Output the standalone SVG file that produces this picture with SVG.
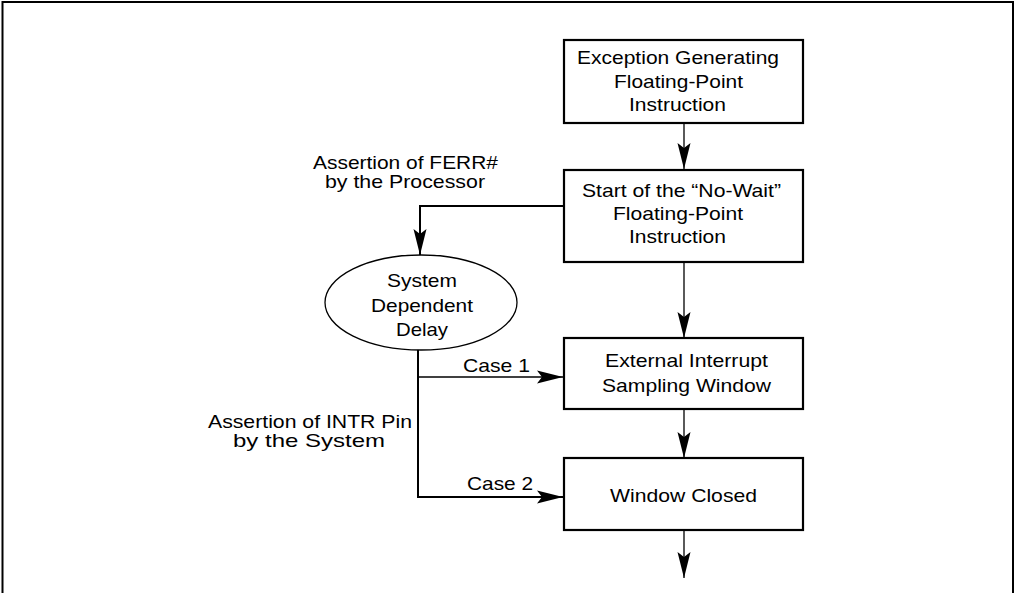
<svg xmlns="http://www.w3.org/2000/svg" width="1014" height="593" viewBox="0 0 1014 593">
<style>
.box{fill:#fff;stroke:#000;stroke-width:2.2}
.t{font-family:"Liberation Sans",Arial,sans-serif;font-size:19px;fill:#000}
.c{fill:none;stroke:#000;stroke-width:1.3}
.ct{fill:none;stroke:#000;stroke-width:2}
</style>
<defs>
<marker id="ah" markerUnits="userSpaceOnUse" markerWidth="26" markerHeight="14" refX="26" refY="7" orient="auto">
<path d="M0,0.5 L26,7 L0,13.5 L5,7 Z" fill="#000"/>
</marker>
</defs>
<path d="M2.5,593 V2 H1013 V593" fill="none" stroke="#000" stroke-width="2"/>
<g id="connectors">
<path class="c" d="M684,123 V169" marker-end="url(#ah)"/>
<path class="ct" d="M564,206 H420 V255" marker-end="url(#ah)"/>
<path class="c" d="M684,262 V338" marker-end="url(#ah)"/>
<path class="c" d="M684,409 V458" marker-end="url(#ah)"/>
<path class="c" d="M684,530 V578" marker-end="url(#ah)"/>
<path class="ct" d="M418,349 V497 H563" marker-end="url(#ah)"/>
<path class="c" d="M418,377 H563" marker-end="url(#ah)"/>
<text class="t" x="463" y="372" textLength="67" lengthAdjust="spacingAndGlyphs">Case 1</text>
<text class="t" x="467" y="490" textLength="66" lengthAdjust="spacingAndGlyphs">Case 2</text>
<text class="t" x="313" y="169" textLength="185" lengthAdjust="spacingAndGlyphs">Assertion of FERR#</text>
<text class="t" x="325" y="188" textLength="160" lengthAdjust="spacingAndGlyphs">by the Processor</text>
<text class="t" x="208" y="428" textLength="204" lengthAdjust="spacingAndGlyphs">Assertion of INTR Pin</text>
<text class="t" x="233" y="447" textLength="152" lengthAdjust="spacingAndGlyphs">by the System</text>
</g>
<g id="n1">
<rect class="box" x="564" y="40" width="239" height="83"/>
<text class="t" x="577" y="64" textLength="202" lengthAdjust="spacingAndGlyphs">Exception Generating</text>
<text class="t" x="614" y="88" textLength="129" lengthAdjust="spacingAndGlyphs">Floating-Point</text>
<text class="t" x="629" y="111" textLength="97" lengthAdjust="spacingAndGlyphs">Instruction</text>
</g>
<g id="n2">
<rect class="box" x="564" y="170" width="239" height="92"/>
<text class="t" x="582" y="197" textLength="199" lengthAdjust="spacingAndGlyphs">Start of the “No-Wait”</text>
<text class="t" x="613" y="220" textLength="130" lengthAdjust="spacingAndGlyphs">Floating-Point</text>
<text class="t" x="629" y="243" textLength="97" lengthAdjust="spacingAndGlyphs">Instruction</text>
</g>
<g id="n3">
<ellipse cx="421" cy="302.5" rx="96" ry="47.5" fill="#fff" stroke="#000" stroke-width="1.3"/>
<text class="t" x="387" y="287" textLength="70" lengthAdjust="spacingAndGlyphs">System</text>
<text class="t" x="371" y="312" textLength="102" lengthAdjust="spacingAndGlyphs">Dependent</text>
<text class="t" x="396" y="336" textLength="52" lengthAdjust="spacingAndGlyphs">Delay</text>
</g>
<g id="n4">
<rect class="box" x="564" y="338" width="239" height="71"/>
<text class="t" x="605" y="367" textLength="163" lengthAdjust="spacingAndGlyphs">External Interrupt</text>
<text class="t" x="602" y="392" textLength="169" lengthAdjust="spacingAndGlyphs">Sampling Window</text>
</g>
<g id="n5">
<rect class="box" x="564" y="458" width="239" height="72"/>
<text class="t" x="610" y="502" textLength="147" lengthAdjust="spacingAndGlyphs">Window Closed</text>
</g>
</svg>
